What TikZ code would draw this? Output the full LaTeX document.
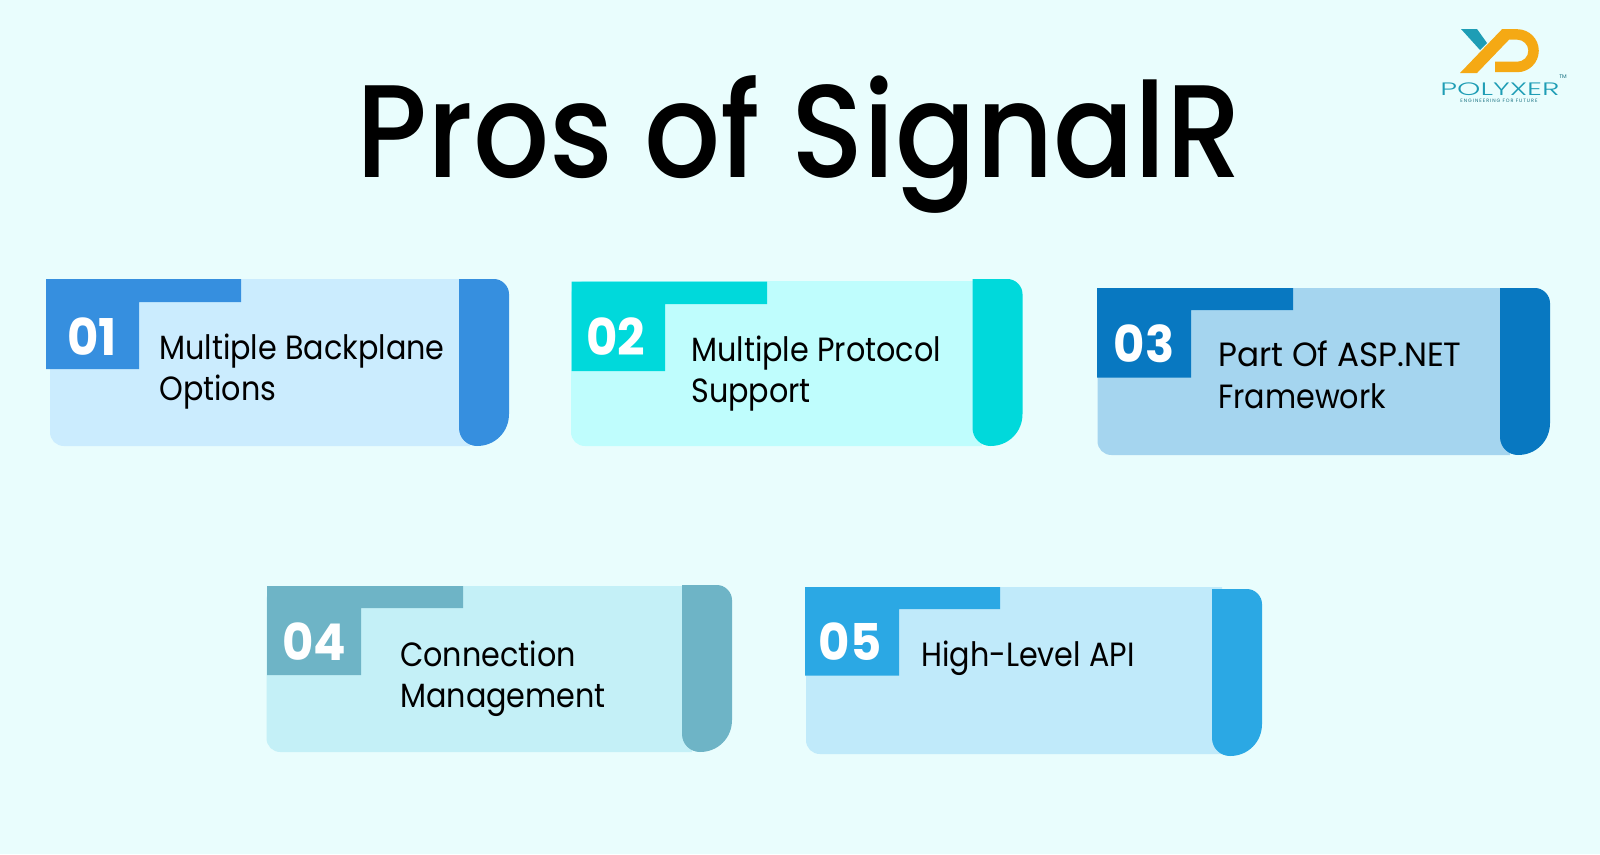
\documentclass[tikz,border=0pt]{standalone}
\usepackage{fontspec}
\setmainfont{Poppins}
\newfontfamily\cardfont[FakeStretch=0.9]{Poppins}
\newfontfamily\numfont[UprightFont=* Bold,FakeStretch=0.95]{Poppins}
\newfontfamily\titlefont[UprightFont=* Medium,FakeStretch=0.905]{Poppins}
\newfontfamily\logofont[UprightFont=* Light,FakeStretch=1.65]{Poppins}
\newfontfamily\tagfont[LetterSpace=20]{Poppins}
\definecolor{pagebg}{HTML}{E9FDFD}
\definecolor{logoteal}{HTML}{1E9DB5}
\definecolor{logoorange}{HTML}{F5A914}
\definecolor{b1}{HTML}{CBECFE}\definecolor{a1}{HTML}{368FDF}
\definecolor{b2}{HTML}{BFFDFD}\definecolor{a2}{HTML}{00D9DB}
\definecolor{b3}{HTML}{A5D5EF}\definecolor{a3}{HTML}{0878C1}
\definecolor{b4}{HTML}{C4F0F7}\definecolor{a4}{HTML}{6EB4C6}
\definecolor{b5}{HTML}{C0EAFA}\definecolor{a5}{HTML}{2BA8E4}
\tikzset{
  x=0.75pt,y=-0.75pt,
  cardtext/.style={anchor=north west,inner sep=0pt,align=left,text=black,font=\cardfont\fontsize{25.2}{30.8}\selectfont},
  cardnum/.style={inner sep=0pt,text=white,font=\numfont\fontsize{38}{38}\selectfont},
}
% colour, left, right, top, bottom
\newcommand{\bodyfill}[5]{%
  \fill[#1] ({#2+14},#4) -- (#3,#4) -- (#3,#5) -- ({#2+14},#5)
    .. controls ({#2+6},#5) and (#2,{#5-6}) .. (#2,{#5-14})
    -- (#2,{#4+14}) .. controls (#2,{#4+6}) and ({#2+6},#4) .. ({#2+14},#4) -- cycle;}
% colour, left, right, top, bottom
\newcommand{\barfill}[5]{%
  \fill[#1] (#2,#4) -- ({#3-15},#4) .. controls ({#3-7},#4) and (#3,{#4+7}) .. (#3,{#4+15})
    -- (#3,{#5-32}) .. controls (#3,{#5-14}) and ({#3-14},#5) .. ({#3-32},#5)
    .. controls ({#2+8},#5) and (#2,{#5-8}) .. (#2,{#5-18}) -- cycle;}
% colour, left, tab right, top, tab bottom, square right, square bottom
\newcommand{\tabfill}[7]{%
  \fill[#1] (#2,#4) -- (#3,#4) -- (#3,#5) -- (#6,#5) -- (#6,#7) -- (#2,#7) -- cycle;}
\begin{document}
\begin{tikzpicture}
\useasboundingbox (0,0) rectangle (1600,854);
\fill[pagebg] (0,0) rectangle (1600,854);

\node[anchor=base,inner sep=0pt,font=\titlefont\fontsize{99}{99}\selectfont] (title) at (799,177) {Pros of SignalR};

% logo
\fill[logoteal] (1461,29) -- (1477,29) -- (1487,43) -- (1480,50) -- cycle;
\fill[logoorange] (1460,73) -- (1502,29.2) -- (1517.3,29.2)
  .. controls (1529.2,29.2) and (1538.8,38.8) .. (1538.8,50.7)
  .. controls (1538.8,62.6) and (1529.2,72.2) .. (1517.3,72.2)
  -- (1495,72.2) -- (1495,61.7) -- (1517.3,61.7)
  .. controls (1523.4,61.7) and (1528.3,56.8) .. (1528.3,50.7)
  .. controls (1528.3,44.6) and (1523.4,39.7) .. (1517.3,39.7)
  -- (1509,39.7) -- (1477,73) -- cycle;
\node[inner sep=0pt,text=logoteal,font=\logofont\fontsize{13.5}{13.5}\selectfont] (logoname) at (1500,89) {POLYXER};
\node[inner sep=0pt,text=logoteal!70!black,font=\tagfont\fontsize{3.6}{4}\selectfont] (logotag) at (1499,101) {ENGINEERING FOR FUTURE};
\node[inner sep=0pt,text=logoteal!70!black,font=\fontsize{4}{4}\selectfont] (logotm) at (1563,77) {TM};

% card 1
\bodyfill{b1}{50}{470}{279}{446}
\tabfill{a1}{46}{241}{279}{302}{139}{369}
\barfill{a1}{459}{509}{279}{446}
\node[cardnum] (n1) at (92,337) {01};
\node[cardtext] (t1) at (159,334) {Multiple Backplane\\Options};

% card 2
\bodyfill{b2}{571}{982}{281}{446}
\tabfill{a2}{571.5}{767}{281.5}{304}{665}{371}
\barfill{a2}{972.5}{1022.5}{279}{446}
\node[cardnum] (n2) at (616,337) {02};
\node[cardtext] (t2) at (691,336) {Multiple Protocol\\Support};

% card 3
\bodyfill{b3}{1097.5}{1510}{288}{455}
\tabfill{a3}{1097}{1293}{288}{310}{1191}{377.5}
\barfill{a3}{1500}{1550}{288}{455}
\node[cardnum] (n3) at (1144,344) {03};
\node[cardtext] (t3) at (1218,341) {\scalebox{1.08}[1]{Part Of ASP.NET}\\Framework};

% card 4
\bodyfill{b4}{266.5}{692}{586}{752}
\tabfill{a4}{267}{463}{586}{608}{361}{675}
\barfill{a4}{682}{732}{585}{752}
\node[cardnum] (n4) at (314,642) {04};
\node[cardtext] (t4) at (400,641) {Connection\\Management};

% card 5
\bodyfill{b5}{806}{1222}{587}{754}
\tabfill{a5}{805}{1000}{587}{609}{899}{675.5}
\barfill{a5}{1212}{1262}{589}{756}
\node[cardnum] (n5) at (850,642) {05};
\node[cardtext] (t5) at (921,641) {High-Level API};
\end{tikzpicture}
\end{document}
